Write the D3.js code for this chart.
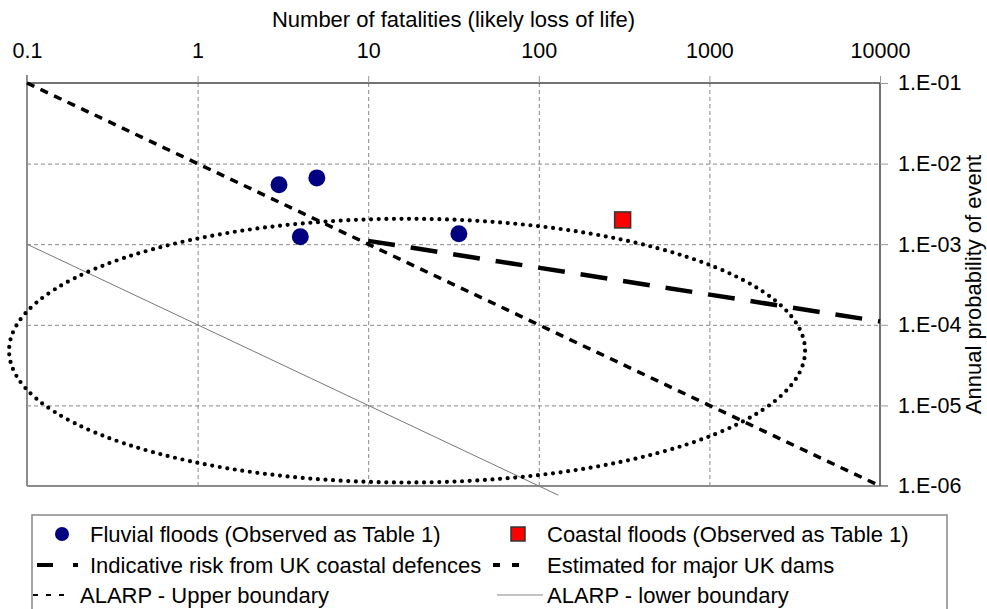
<!DOCTYPE html>
<html>
<head>
<meta charset="utf-8">
<script src="https://cdn.jsdelivr.net/npm/d3@7"></script>
<style>
  body { margin: 0; background: #fff; }
  svg { font-family: "Liberation Sans", Arial, sans-serif; }
</style>
</head>
<body>
<script>
// --- data ---
var xTicks = [0.1, 1, 10, 100, 1000, 10000];
var yTicks = [1e-1, 1e-2, 1e-3, 1e-4, 1e-5, 1e-6];

var fluvialN = [3, 5, 4, 34];
var fluvialP = [5.45e-3, 6.65e-3, 1.24e-3, 1.35e-3];

var coastalN = [310];
var coastalP = [2.0e-3];

var defencesN = [10, 10000];
var defencesP = [1.1e-3, 1.1e-4];

var damsN = [0.1, 10000];
var damsP = [1e-1, 1e-6];

var alarpUpperN = [0.1, 10000];
var alarpUpperP = [1e-1, 1e-6];

var alarpLowerN = [0.1, 130];
var alarpLowerP = [1e-3, 7.7e-7];

// dotted ellipse: centre (N, P) and half-widths in decades
var ellipseCentre = [16.9, 4.78e-5];
var ellipseDecades = [2.333, 1.636];

var legendLabels = [
  "Fluvial floods (Observed as Table 1)",
  "Coastal floods (Observed as Table 1)",
  "Indicative risk from UK coastal defences",
  "Estimated for major UK dams",
  "ALARP - Upper boundary",
  "ALARP - lower boundary"
];

// --- layout ---
var svgW = 987, svgH = 609;
var plotL = 27, plotR = 880, plotT = 83, plotB = 486;

var svg = d3.select("body").append("svg")
    .attr("width", svgW)
    .attr("height", svgH);

var xScale = d3.scaleLog().domain([0.1, 10000]).range([plotL, plotR]);
var yScale = d3.scaleLog().domain([1e-1, 1e-6]).range([plotT, plotB]);

function zip(a, b) { return a.map(function(d, i) { return [d, b[i]]; }); }

var line = d3.line()
    .x(function(d) { return xScale(d[0]); })
    .y(function(d) { return yScale(d[1]); });

// gridlines
svg.append("g")
    .attr("transform", "translate(0," + plotT + ")")
    .call(d3.axisTop(xScale).tickValues(xTicks.slice(1, 5)).tickSize(-(plotB - plotT)).tickFormat(""))
    .call(function(g) { g.select(".domain").remove(); })
    .selectAll("line")
    .attr("stroke", "#888")
    .attr("stroke-dasharray", "4,3");

svg.append("g")
    .attr("transform", "translate(" + plotL + ",0)")
    .call(d3.axisLeft(yScale).tickValues(yTicks.slice(1, 5)).tickSize(-(plotR - plotL)).tickFormat(""))
    .call(function(g) { g.select(".domain").remove(); })
    .selectAll("line")
    .attr("stroke", "#888")
    .attr("stroke-dasharray", "4,3");

// frame
svg.append("line").attr("x1", plotL).attr("x2", plotL).attr("y1", plotT - 8).attr("y2", plotB)
    .attr("stroke", "#8c8c8c").attr("stroke-width", 2);
svg.append("line").attr("x1", plotL).attr("x2", plotR + 8).attr("y1", plotB).attr("y2", plotB)
    .attr("stroke", "#8c8c8c").attr("stroke-width", 2);

// top axis
var xAxis = svg.append("g")
    .attr("transform", "translate(0," + plotT + ")")
    .call(d3.axisTop(xScale)
        .tickValues(xTicks)
        .tickSize(7)
        .tickPadding(18)
        .tickFormat(function(d) { return d < 1 ? "0.1" : String(d); }));
xAxis.select(".domain").attr("stroke", "#444").attr("stroke-width", 1.5).attr("d", "M" + plotL + ",0H" + plotR);
xAxis.selectAll(".tick line").attr("stroke", "#999");
xAxis.selectAll("text")
    .attr("font-size", 21.5)
    .attr("fill", "#000")
    .attr("font-family", "Liberation Sans, Arial, sans-serif");

// right axis
var yAxis = svg.append("g")
    .attr("transform", "translate(" + plotR + ",0)")
    .call(d3.axisRight(yScale)
        .tickValues(yTicks)
        .tickSize(8)
        .tickPadding(10)
        .tickFormat(function(d) {
            var e = -Math.round(Math.log10(d));
            return "1.E-" + (e < 10 ? "0" + e : e);
        }));
yAxis.select(".domain").attr("stroke", "#444").attr("stroke-width", 1.5).attr("d", "M0," + plotT + "V" + plotB);
yAxis.selectAll(".tick line").attr("stroke", "#999");
yAxis.selectAll("text")
    .attr("font-size", 21.5)
    .attr("fill", "#000")
    .attr("font-family", "Liberation Sans, Arial, sans-serif");

// axis titles
svg.append("text")
    .attr("x", (plotL + plotR) / 2)
    .attr("y", 27)
    .attr("text-anchor", "middle")
    .attr("font-size", 22)
    .text("Number of fatalities (likely loss of life)");

svg.append("text")
    .attr("transform", "translate(981," + (plotT + plotB) / 2 + ") rotate(-90)")
    .attr("text-anchor", "middle")
    .attr("font-size", 22)
    .text("Annual probability of event");

// ALARP lower
svg.append("path")
    .datum(zip(alarpLowerN, alarpLowerP))
    .attr("d", line)
    .attr("fill", "none")
    .attr("stroke", "#777")
    .attr("stroke-width", 1);

// ALARP upper + dams (same path)
svg.append("path")
    .datum(zip(alarpUpperN, alarpUpperP))
    .attr("d", line)
    .attr("fill", "none")
    .attr("stroke", "#000")
    .attr("stroke-width", 1.5)
    .attr("stroke-dasharray", "8,7");

svg.append("path")
    .datum(zip(damsN, damsP))
    .attr("d", line)
    .attr("fill", "none")
    .attr("stroke", "#000")
    .attr("stroke-width", 3.5)
    .attr("stroke-dasharray", "8,7");

// coastal defences
svg.append("path")
    .datum(zip(defencesN, defencesP))
    .attr("d", line)
    .attr("fill", "none")
    .attr("stroke", "#000")
    .attr("stroke-width", 4.5)
    .attr("stroke-dasharray", "27,16");

// dotted ellipse
var ecx = xScale(ellipseCentre[0]);
var ecy = yScale(ellipseCentre[1]);
svg.append("ellipse")
    .attr("cx", ecx)
    .attr("cy", ecy)
    .attr("rx", xScale(ellipseCentre[0] * Math.pow(10, ellipseDecades[0])) - ecx)
    .attr("ry", ecy - yScale(ellipseCentre[1] * Math.pow(10, ellipseDecades[1])))
    .attr("fill", "none")
    .attr("stroke", "#000")
    .attr("stroke-width", 4.2)
    .attr("stroke-linecap", "round")
    .attr("stroke-dasharray", "0,7.6");

// fluvial points
svg.selectAll(".fluvial")
    .data(zip(fluvialN, fluvialP))
    .enter().append("circle")
    .attr("class", "fluvial")
    .attr("cx", function(d) { return xScale(d[0]); })
    .attr("cy", function(d) { return yScale(d[1]); })
    .attr("r", 8.5)
    .attr("fill", "#000080");

// coastal points
svg.selectAll(".coastal")
    .data(zip(coastalN, coastalP))
    .enter().append("rect")
    .attr("class", "coastal")
    .attr("x", function(d) { return xScale(d[0]) - 8; })
    .attr("y", function(d) { return yScale(d[1]) - 8; })
    .attr("width", 16)
    .attr("height", 16)
    .attr("fill", "#ff0000")
    .attr("stroke", "#333")
    .attr("stroke-width", 1.5);

// legend
var lg = svg.append("g");
lg.append("rect")
    .attr("x", 32).attr("y", 515)
    .attr("width", 915).attr("height", 110)
    .attr("fill", "#fff")
    .attr("stroke", "#888")
    .attr("stroke-width", 1.5);

var rows = [534, 565, 595];
var col2 = 547;

lg.append("circle").attr("cx", 62).attr("cy", rows[0]).attr("r", 7).attr("fill", "#000080");
lg.append("rect").attr("x", 511).attr("y", rows[0] - 7).attr("width", 14).attr("height", 14)
    .attr("fill", "#ff0000").attr("stroke", "#333").attr("stroke-width", 1.5);
lg.append("line").attr("x1", 37).attr("x2", 78).attr("y1", rows[1]).attr("y2", rows[1])
    .attr("stroke", "#000").attr("stroke-width", 4).attr("stroke-dasharray", "16,20");
lg.append("line").attr("x1", 493).attr("x2", 520).attr("y1", rows[1]).attr("y2", rows[1])
    .attr("stroke", "#000").attr("stroke-width", 4).attr("stroke-dasharray", "7,12");
lg.append("line").attr("x1", 33).attr("x2", 68).attr("y1", rows[2]).attr("y2", rows[2])
    .attr("stroke", "#000").attr("stroke-width", 2).attr("stroke-dasharray", "5,8");
lg.append("line").attr("x1", 497).attr("x2", 543).attr("y1", rows[2]).attr("y2", rows[2])
    .attr("stroke", "#888").attr("stroke-width", 1);

var textPos = [[90, rows[0]], [col2, rows[0]], [90, rows[1]], [col2, rows[1]], [80, rows[2]], [col2, rows[2]]];
lg.selectAll(".lgtext")
    .data(legendLabels)
    .enter().append("text")
    .attr("class", "lgtext")
    .attr("x", function(d, i) { return textPos[i][0]; })
    .attr("y", function(d, i) { return textPos[i][1] + 7.5; })
    .attr("font-size", 22)
    .text(function(d) { return d; });
</script>
</body>
</html>
